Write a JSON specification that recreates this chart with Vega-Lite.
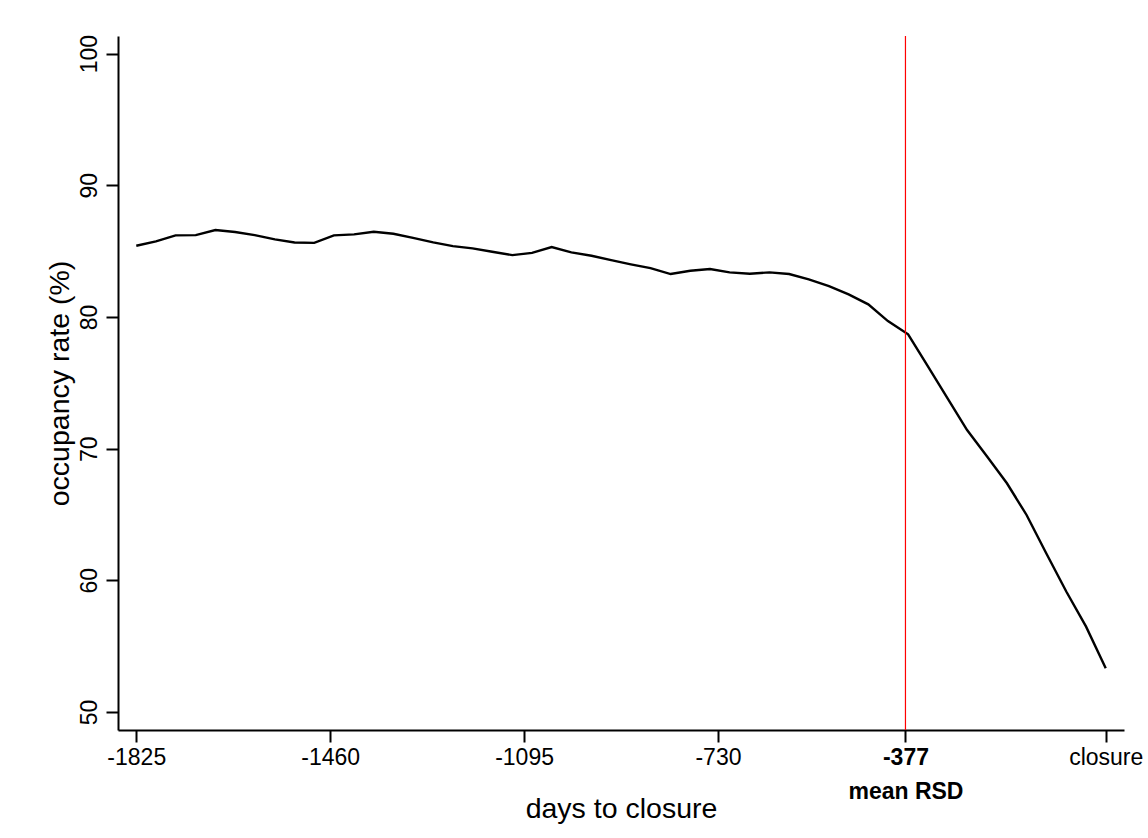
{
  "$schema": "https://vega.github.io/schema/vega-lite/v6.json",
  "width": 1006,
  "height": 694,
  "autosize": {"type": "none"},
  "padding": {"left": 118, "top": 36, "right": 24, "bottom": 108},
  "background": "white",
  "config": {
    "view": {"stroke": null},
    "font": "Liberation Sans",
    "axis": {
      "grid": false,
      "domainColor": "black",
      "tickColor": "black",
      "domainWidth": 2,
      "tickWidth": 2,
      "tickSize": 12,
      "labelColor": "black",
      "titleColor": "black",
      "labelFont": "Liberation Sans",
      "titleFont": "Liberation Sans",
      "titleFontWeight": "normal",
      "labelFlush": false,
      "labelOverlap": false,
      "labelBound": false
    }
  },
  "layer": [
    {
      "data": {
        "values": [
          {"days": -1825, "rate": 85.41},
          {"days": -1788, "rate": 85.74},
          {"days": -1751, "rate": 86.2},
          {"days": -1713, "rate": 86.22},
          {"days": -1676, "rate": 86.6},
          {"days": -1639, "rate": 86.45},
          {"days": -1602, "rate": 86.22},
          {"days": -1564, "rate": 85.89},
          {"days": -1527, "rate": 85.66},
          {"days": -1490, "rate": 85.63},
          {"days": -1453, "rate": 86.2},
          {"days": -1415, "rate": 86.27},
          {"days": -1378, "rate": 86.47},
          {"days": -1341, "rate": 86.32},
          {"days": -1304, "rate": 86.01},
          {"days": -1266, "rate": 85.66},
          {"days": -1229, "rate": 85.38},
          {"days": -1192, "rate": 85.21},
          {"days": -1155, "rate": 84.95},
          {"days": -1117, "rate": 84.7},
          {"days": -1080, "rate": 84.87},
          {"days": -1043, "rate": 85.31},
          {"days": -1006, "rate": 84.91},
          {"days": -968, "rate": 84.65},
          {"days": -931, "rate": 84.32},
          {"days": -894, "rate": 84.0},
          {"days": -857, "rate": 83.71},
          {"days": -819, "rate": 83.26},
          {"days": -782, "rate": 83.51},
          {"days": -745, "rate": 83.64},
          {"days": -708, "rate": 83.39},
          {"days": -670, "rate": 83.28},
          {"days": -633, "rate": 83.39},
          {"days": -596, "rate": 83.26},
          {"days": -559, "rate": 82.85},
          {"days": -521, "rate": 82.35},
          {"days": -484, "rate": 81.72},
          {"days": -447, "rate": 80.96},
          {"days": -410, "rate": 79.69},
          {"days": -372, "rate": 78.68},
          {"days": -335, "rate": 76.26},
          {"days": -298, "rate": 73.84},
          {"days": -261, "rate": 71.41},
          {"days": -223, "rate": 69.39},
          {"days": -186, "rate": 67.37},
          {"days": -149, "rate": 64.96},
          {"days": -112, "rate": 62.05},
          {"days": -74, "rate": 59.13},
          {"days": -37, "rate": 56.48},
          {"days": 0, "rate": 53.32}
        ]
      },
      "mark": {"type": "line", "color": "black", "strokeWidth": 2.4},
      "encoding": {
        "x": {
          "field": "days",
          "type": "quantitative",
          "scale": {"domain": [-1859.4, 34.4], "nice": false, "zero": false},
          "axis": {
            "values": [-1825, -1460, -1095, -730, -377, 0],
            "labelExpr": "datum.value == 0 ? 'closure' : (datum.value == -377 ? ['-377', 'mean RSD'] : '' + datum.value)",
            "labelFontSize": 23,
            "labelFontWeight": {"condition": {"test": "datum.value == -377", "value": "bold"}, "value": "normal"},
            "labelPadding": 4,
            "labelLineHeight": 34,
            "title": "days to closure",
            "titleFontSize": 28.5,
            "titleX": 503,
            "titleY": 87,
            "titleAlign": "center",
            "titleBaseline": "alphabetic"
          }
        },
        "y": {
          "field": "rate",
          "type": "quantitative",
          "scale": {"domain": [48.63, 101.34], "nice": false, "zero": false},
          "axis": {
            "values": [50, 60, 70, 80, 90, 100],
            "labelAngle": -90,
            "labelAlign": "center",
            "labelBaseline": "alphabetic",
            "labelFontSize": 23,
            "labelPadding": 10,
            "title": "occupancy rate (%)",
            "titleFontSize": 28.5,
            "titleAngle": -90,
            "titleX": -50,
            "titleY": 347,
            "titleAlign": "center",
            "titleBaseline": "alphabetic"
          }
        }
      }
    },
    {
      "data": {"values": [{"rsd": -377}]},
      "mark": {"type": "rule", "color": "#ff0000", "strokeWidth": 1.2},
      "encoding": {
        "x": {"field": "rsd", "type": "quantitative"}
      }
    }
  ]
}
